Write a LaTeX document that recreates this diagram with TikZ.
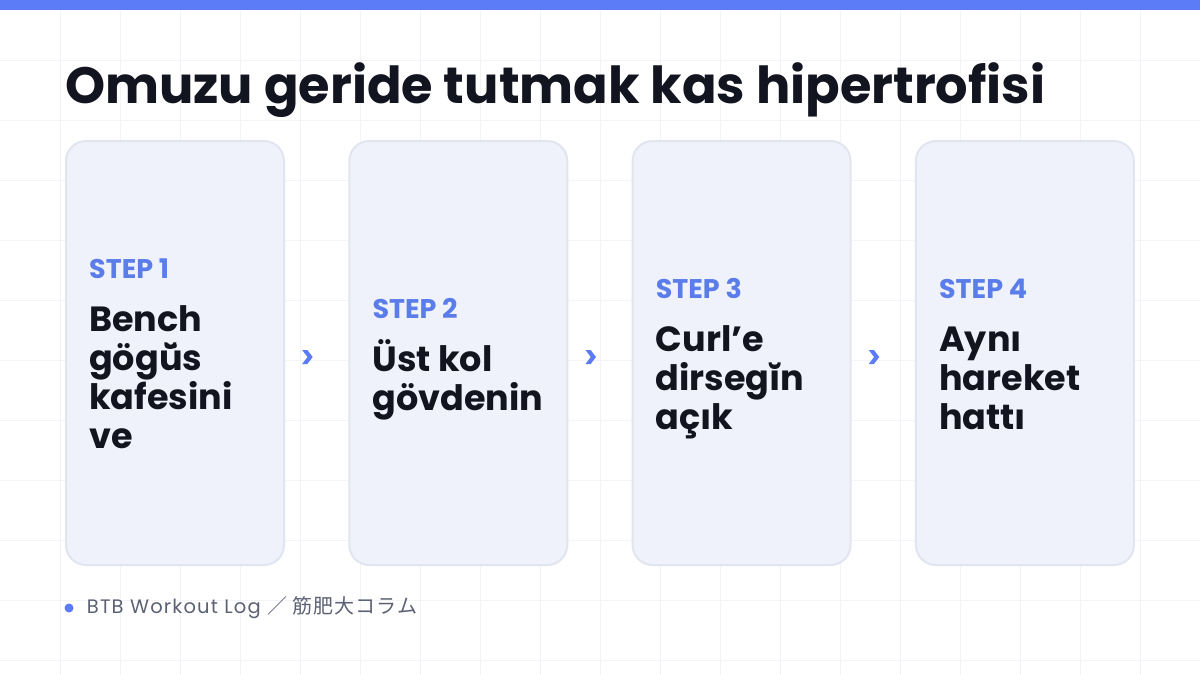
\documentclass[tikz,border=0pt]{standalone}
\usepackage{fontspec}
\setmainfont{Poppins}
\newfontfamily\jpfont{Noto Sans CJK JP}
\usetikzlibrary{positioning,calc}

\definecolor{azul}{HTML}{5B7CF6}
\definecolor{azulpaso}{HTML}{5A7DEA}
\definecolor{tinta}{HTML}{12141F}
\definecolor{relleno}{HTML}{F0F2FB}
\definecolor{borde}{HTML}{E1E5F0}
\definecolor{rejilla}{HTML}{F3F4F7}
\definecolor{gris}{HTML}{5C6274}

\newcommand{\ubreve}{\ooalign{ü\cr\hidewidth˘\hidewidth\cr}}

\begin{document}
\begin{tikzpicture}[x=1pt, y=-1pt,
  tarjeta/.style={draw=borde, line width=2pt, fill=relleno, rounded corners=20pt,
    minimum width=218pt, minimum height=424pt, inner sep=0pt},
  paso/.style={font=\bfseries\fontsize{27}{30}\selectfont, text=azulpaso, inner sep=0pt, anchor=base west},
  cuerpo/.style={font=\bfseries\fontsize{35}{39}\selectfont, text=tinta, inner sep=0pt, align=left, anchor=base west},
  flecha/.style={inner sep=0pt, minimum size=14pt}]

% Fondo y rejilla
\useasboundingbox (0,0) rectangle (1200,675);
\fill[white] (0,0) rectangle (1200,675);
\foreach \i in {60,120,...,1140} \draw[rejilla, line width=1pt] (\i,0) -- (\i,675);
\foreach \j in {60,120,...,660} \draw[rejilla, line width=1pt] (0,\j) -- (1200,\j);

% Barra superior
\fill[azul] (0,0) rectangle (1200,10);

% Titulo
\node[font=\bfseries\fontsize{51}{60}\selectfont, text=tinta, inner sep=0pt, anchor=base west]
  (titulo) at (65,103) {Omuzu geride tutmak kas hipertrofisi};

% Tarjetas
\node[tarjeta] (c1) at (175,353) {};
\node[tarjeta, right=63.3pt of c1] (c2) {};
\node[tarjeta, right=63.3pt of c2] (c3) {};
\node[tarjeta, right=63.3pt of c3] (c4) {};

% 1. Paso 1 (la base del texto es su ultima linea)
\node[paso] (p1) at ($(c1.north west)+(24,138)$) {STEP 1};
\node[cuerpo] (t1) at ($(p1.base west)+(0,170)$) {Bench\\gög\ubreve s\\kafesini\\ve};

% 2. Paso 2
\node[paso] (p2) at ($(c2.north west)+(24,178)$) {STEP 2};
\node[cuerpo] (t2) at ($(p2.base west)+(0,92)$) {Üst kol\\gövdenin};

% 3. Paso 3
\node[paso] (p3) at ($(c3.north west)+(24,158)$) {STEP 3};
\node[cuerpo] (t3) at ($(p3.base west)+(0,131)$) {Curl’e\\dirsegĭn\\açık};

% 4. Paso 4
\node[paso] (p4) at ($(c4.north west)+(24,158)$) {STEP 4};
\node[cuerpo] (t4) at ($(p4.base west)+(0,131)$) {Aynı\\hareket\\hattı};

% Flechas entre tarjetas
\node[flecha] (f1) at ($(c1.east)!0.35!(c2.west)+(0,4)$) {};
\node[flecha] (f2) at ($(c2.east)!0.35!(c3.west)+(0,4)$) {};
\node[flecha] (f3) at ($(c3.east)!0.35!(c4.west)+(0,4)$) {};
\foreach \f in {f1,f2,f3}
  \fill[azul] ($(\f)+(-5,-7)$) -- ($(\f)+(0.2,-7)$) -- ($(\f)+(5.5,0)$) -- ($(\f)+(0.2,7)$)
    -- ($(\f)+(-5,7)$) -- ($(\f)+(0.3,0)$) -- cycle;

% Pie
\node[circle, fill=azul, minimum size=9pt, inner sep=0pt] (punto) at (69,608) {};
\node[font=\fontsize{19.5}{22}\selectfont\addfontfeature{LetterSpace=6}, text=gris, inner sep=0pt, right=13pt of punto]
  (pie) {BTB Workout Log {\jpfont\fontsize{20}{22}\selectfont\addfontfeature{LetterSpace=5} ／ 筋肥大コラム}};
\end{tikzpicture}
\end{document}
